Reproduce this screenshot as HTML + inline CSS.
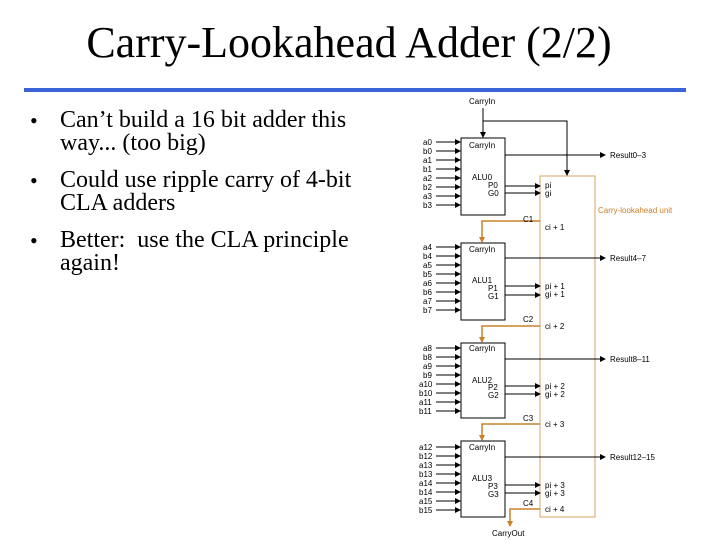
<!DOCTYPE html>
<html><head><style>
body{margin:0;width:720px;height:540px;background:#fff;position:relative;overflow:hidden;font-family:"Liberation Serif",serif}
.t{position:absolute;left:0;width:698px;text-align:center;top:17px;font-size:44px;line-height:52px}
.bar{position:absolute;left:24px;top:88px;width:662px;height:4px;background:#3a64d8}
ul{position:absolute;left:30px;top:109px;margin:0;padding:0;list-style:none;font-size:24px;line-height:23px;width:340px}
li{position:relative;padding-left:30px;margin-bottom:14px}
li:before{content:"•";position:absolute;left:0;font-size:22px}
</style></head><body>
<div class="t">Carry-Lookahead Adder (2/2)</div>
<div class="bar"></div>
<ul>
<li>Can’t build a 16 bit adder this way... (too big)</li>
<li>Could use ripple carry of 4-bit CLA adders</li>
<li>Better:&nbsp; use the CLA principle again!</li>
</ul>
<svg width="720" height="540" style="position:absolute;left:0;top:0" font-family="Liberation Sans,sans-serif" font-size="8">
<defs>
<marker id="a" markerWidth="6" markerHeight="6" refX="5" refY="3" orient="auto" markerUnits="userSpaceOnUse"><path d="M0,0L6,3L0,6z" fill="#000"/></marker>
<marker id="o" markerWidth="6" markerHeight="6" refX="5" refY="3" orient="auto" markerUnits="userSpaceOnUse"><path d="M0,0L6,3L0,6z" fill="#c8802a"/></marker>
</defs>
<g fill="none" stroke="#000" stroke-width="1">
<rect x="461" y="138" width="44" height="77"/>
<rect x="461" y="243" width="44" height="77"/>
<rect x="461" y="343" width="44" height="75"/>
<rect x="461" y="441" width="44" height="76"/>
<rect x="540" y="176" width="55" height="341" stroke="#d9a060"/>
<path d="M483,108V137" marker-end="url(#a)"/>
<path d="M483,121H567V175" marker-end="url(#a)"/>
<path d="M505,155H605" marker-end="url(#a)"/>
<path d="M505,258H605" marker-end="url(#a)"/>
<path d="M505,359H605" marker-end="url(#a)"/>
<path d="M505,457H605" marker-end="url(#a)"/>
<path d="M505,186H540" marker-end="url(#a)"/><path d="M505,193H540" marker-end="url(#a)"/>
<path d="M505,286H540" marker-end="url(#a)"/><path d="M505,295H540" marker-end="url(#a)"/>
<path d="M505,386H540" marker-end="url(#a)"/><path d="M505,394H540" marker-end="url(#a)"/>
<path d="M505,485H540" marker-end="url(#a)"/><path d="M505,493H540" marker-end="url(#a)"/>
<g stroke="#c8802a" stroke-width="1.5">
<path d="M540,221H482V242" marker-end="url(#o)"/>
<path d="M540,326H482V342" marker-end="url(#o)"/>
<path d="M540,424H482V440" marker-end="url(#o)"/>
<path d="M540,509H510V526" marker-end="url(#o)"/>
</g>
</g>
<g fill="#000">
<text x="469" y="104">CarryIn</text>
<text x="469" y="148">CarryIn</text><text x="472" y="180">ALU0</text><text x="488" y="188">P0</text><text x="488" y="196">G0</text>
<text x="469" y="252">CarryIn</text><text x="472" y="283">ALU1</text><text x="488" y="291">P1</text><text x="488" y="299">G1</text>
<text x="469" y="351">CarryIn</text><text x="472" y="383">ALU2</text><text x="488" y="390">P2</text><text x="488" y="398">G2</text>
<text x="469" y="450">CarryIn</text><text x="472" y="481">ALU3</text><text x="488" y="489">P3</text><text x="488" y="497">G3</text>
<text x="610" y="158">Result0–3</text><text x="610" y="261">Result4–7</text><text x="610" y="362">Result8–11</text><text x="610" y="460">Result12–15</text>
<text x="545" y="188">pi</text><text x="545" y="196">gi</text>
<text x="545" y="289">pi + 1</text><text x="545" y="297">gi + 1</text>
<text x="545" y="389">pi + 2</text><text x="545" y="397">gi + 2</text>
<text x="545" y="488">pi + 3</text><text x="545" y="496">gi + 3</text>
<text x="545" y="230">ci + 1</text><text x="545" y="329">ci + 2</text><text x="545" y="427">ci + 3</text><text x="545" y="512">ci + 4</text>
<text x="523" y="222">C1</text><text x="523" y="322">C2</text><text x="523" y="421">C3</text><text x="523" y="506">C4</text>
<text x="492" y="536">CarryOut</text>
<text x="598" y="213" fill="#c8802a">Carry-lookahead unit</text>
</g>
<g fill="#000">
<text x="423" y="145">a0</text><text x="423" y="154">b0</text><text x="423" y="163">a1</text><text x="423" y="172">b1</text><text x="423" y="181">a2</text><text x="423" y="190">b2</text><text x="423" y="199">a3</text><text x="423" y="208">b3</text>
<text x="423" y="250">a4</text><text x="423" y="259">b4</text><text x="423" y="268">a5</text><text x="423" y="277">b5</text><text x="423" y="286">a6</text><text x="423" y="295">b6</text><text x="423" y="304">a7</text><text x="423" y="313">b7</text>
<text x="423" y="351">a8</text><text x="423" y="360">b8</text><text x="423" y="369">a9</text><text x="423" y="378">b9</text><text x="419" y="387">a10</text><text x="419" y="396">b10</text><text x="419" y="405">a11</text><text x="419" y="414">b11</text>
<text x="419" y="450">a12</text><text x="419" y="459">b12</text><text x="419" y="468">a13</text><text x="419" y="477">b13</text><text x="419" y="486">a14</text><text x="419" y="495">b14</text><text x="419" y="504">a15</text><text x="419" y="513">b15</text>
</g>
<g stroke="#000" stroke-width="1">
<path marker-end="url(#a)" d="M436,142H460"/><path marker-end="url(#a)" d="M436,151H460"/><path marker-end="url(#a)" d="M436,160H460"/><path marker-end="url(#a)" d="M436,169H460"/><path marker-end="url(#a)" d="M436,178H460"/><path marker-end="url(#a)" d="M436,187H460"/><path marker-end="url(#a)" d="M436,196H460"/><path marker-end="url(#a)" d="M436,205H460"/>
<path marker-end="url(#a)" d="M436,247H460"/><path marker-end="url(#a)" d="M436,256H460"/><path marker-end="url(#a)" d="M436,265H460"/><path marker-end="url(#a)" d="M436,274H460"/><path marker-end="url(#a)" d="M436,283H460"/><path marker-end="url(#a)" d="M436,292H460"/><path marker-end="url(#a)" d="M436,301H460"/><path marker-end="url(#a)" d="M436,310H460"/>
<path marker-end="url(#a)" d="M436,348H460"/><path marker-end="url(#a)" d="M436,357H460"/><path marker-end="url(#a)" d="M436,366H460"/><path marker-end="url(#a)" d="M436,375H460"/><path marker-end="url(#a)" d="M436,384H460"/><path marker-end="url(#a)" d="M436,393H460"/><path marker-end="url(#a)" d="M436,402H460"/><path marker-end="url(#a)" d="M436,411H460"/>
<path marker-end="url(#a)" d="M436,447H460"/><path marker-end="url(#a)" d="M436,456H460"/><path marker-end="url(#a)" d="M436,465H460"/><path marker-end="url(#a)" d="M436,474H460"/><path marker-end="url(#a)" d="M436,483H460"/><path marker-end="url(#a)" d="M436,492H460"/><path marker-end="url(#a)" d="M436,501H460"/><path marker-end="url(#a)" d="M436,510H460"/>
</g>
</svg>
</body></html>
